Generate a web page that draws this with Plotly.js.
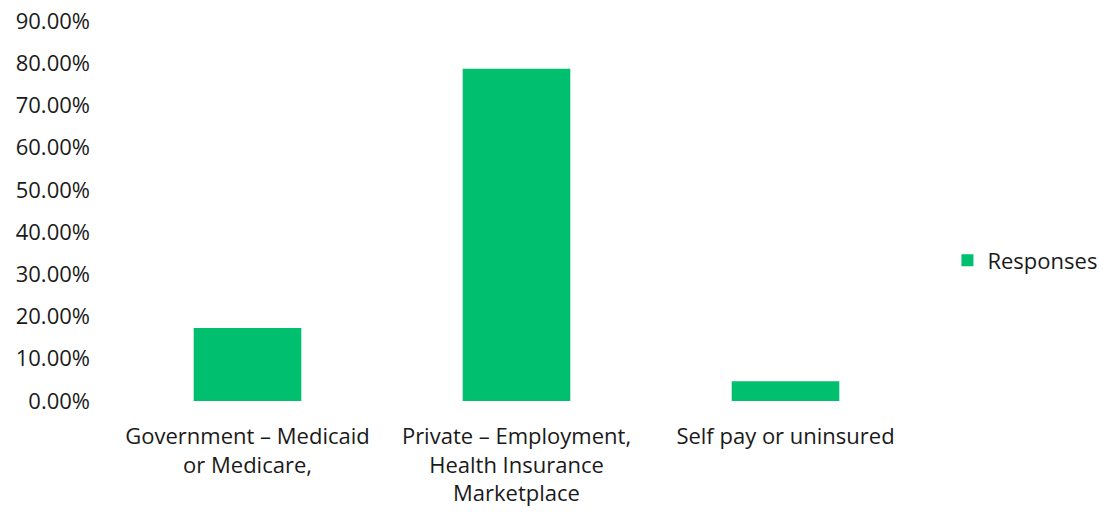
<!DOCTYPE html>
<html>
<head>
<meta charset="utf-8">
<script src="https://cdn.plot.ly/plotly-3.0.1.min.js"></script>
<style>html,body{margin:0;padding:0;background:#fff;}#chart{width:1103px;height:517px;}</style>
</head>
<body>
<div id="chart"></div>
<script>
const categories = ["Government – Medicaid<br>or Medicare,", "Private – Employment,<br>Health Insurance<br>Marketplace", "Self pay or uninsured"];
const responses = [0.173, 0.787, 0.047];
const seriesName = "Responses";
const yTickValues = [0, 0.1, 0.2, 0.3, 0.4, 0.5, 0.6, 0.7, 0.8, 0.9];

const trace = {
  type: "bar",
  x: categories,
  y: responses,
  name: seriesName,
  marker: {color: "#00BF6F"},
  showlegend: true,
  hoverinfo: "x+y"
};

const font = {family: "'Open Sans', Lato, sans-serif", size: 22, color: "#1a1a1a"};

const layout = {
  width: 1103,
  height: 517,
  margin: {l: 113, r: 183, t: 21, b: 116, autoexpand: false},
  paper_bgcolor: "#ffffff",
  plot_bgcolor: "#ffffff",
  font: font,
  bargap: 0.6,
  showlegend: true,
  legend: {
    x: 1.034, xanchor: "left",
    y: 0.37, yanchor: "middle",
    font: font,
    itemwidth: 30,
    bgcolor: "rgba(0,0,0,0)"
  },
  xaxis: {
    showgrid: false, zeroline: false, showline: false,
    ticks: "", ticklabelstandoff: 20, tickfont: font, automargin: false
  },
  yaxis: {
    range: [0, 0.9],
    tickvals: yTickValues,
    tickformat: ".2%",
    showgrid: false, zeroline: false, showline: false,
    ticks: "", ticklabelstandoff: 22, tickfont: font, automargin: false
  }
};

Plotly.newPlot("chart", [trace], layout, {displayModeBar: false, staticPlot: true});
</script>
</body>
</html>
